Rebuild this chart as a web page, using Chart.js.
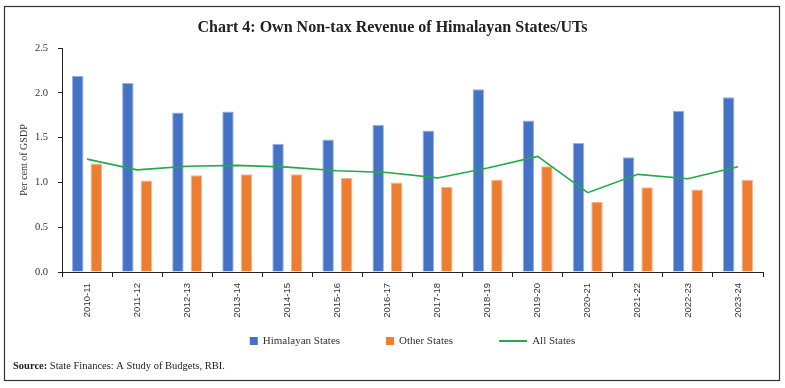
<!DOCTYPE html>
<html>
<head>
<meta charset="utf-8">
<script src="https://cdn.jsdelivr.net/npm/chart.js@4.4.0/dist/chart.umd.min.js"></script>
<style>
  html, body { margin: 0; padding: 0; background: #fff; }
</style>
</head>
<body>
<canvas id="myChart" width="785" height="388"></canvas>
<script>
// anni fiscali sull'asse x
var anni = ['2010-11', '2011-12', '2012-13', '2013-14', '2014-15', '2015-16', '2016-17',
            '2017-18', '2018-19', '2019-20', '2020-21', '2021-22', '2022-23', '2023-24'];
// valori (per cent of GSDP)
var himalayan_states = [2.19, 2.11, 1.78, 1.79, 1.43, 1.48, 1.64, 1.58, 2.04, 1.69, 1.44, 1.28, 1.80, 1.95];
var other_states = [1.21, 1.02, 1.08, 1.09, 1.09, 1.05, 1.00, 0.95, 1.03, 1.18, 0.78, 0.945, 0.92, 1.03];
var all_states = [1.26, 1.14, 1.18, 1.19, 1.17, 1.13, 1.11, 1.05, 1.16, 1.29, 0.885, 1.09, 1.04, 1.175];
// etichette asse y
var tick_y = [0, 0.5, 1.0, 1.5, 2.0, 2.5];

var nomi_serie = ['Himalayan States', 'Other States', 'All States'];
var titolo = 'Chart 4: Own Non-tax Revenue of Himalayan States/UTs';
var fonte = 'State Finances: A Study of Budgets, RBI.';

var blu = '#4472C4';
var arancio = '#ED7D31';
var verde = '#22AA4B';
var serif = '"Liberation Serif", "DejaVu Serif", serif';

// cornice, titolo, legenda e fonte disegnati a mano
var cornice = {
    id: 'cornice',
    beforeDraw: function(chart) {
        var ctx = chart.ctx;
        ctx.save();
        ctx.fillStyle = '#fff';
        ctx.fillRect(0, 0, chart.width, chart.height);
        ctx.strokeStyle = '#333';
        ctx.lineWidth = 1.2;
        ctx.strokeRect(4.5, 6.5, chart.width - 10, chart.height - 14);
        // titolo
        ctx.fillStyle = '#222';
        ctx.font = 'bold 16px ' + serif;
        ctx.textAlign = 'center';
        ctx.textBaseline = 'alphabetic';
        ctx.fillText(titolo, chart.width / 2, 32);
        ctx.restore();
    },
    afterDraw: function(chart) {
        var ctx = chart.ctx;
        var area = chart.chartArea;
        ctx.save();
        ctx.font = '11px ' + serif;
        ctx.textBaseline = 'middle';
        ctx.textAlign = 'left';
        var simboli = [8, 8, 28];
        var spazio = 46;
        var larghezze = [];
        var totale = 0;
        for (var i = 0; i < nomi_serie.length; i++) {
            var w = simboli[i] + 5 + ctx.measureText(nomi_serie[i]).width;
            larghezze.push(w);
            totale += w;
        }
        totale += spazio * (nomi_serie.length - 1);
        var x = (area.left + area.right) / 2 - totale / 2;
        var y = 341;
        for (var j = 0; j < nomi_serie.length; j++) {
            var ds = chart.data.datasets[j];
            if (ds.type === 'line') {
                ctx.strokeStyle = ds.borderColor;
                ctx.lineWidth = 2;
                ctx.beginPath();
                ctx.moveTo(x, y);
                ctx.lineTo(x + simboli[j], y);
                ctx.stroke();
            } else {
                ctx.fillStyle = ds.backgroundColor;
                ctx.fillRect(x, y - 4, simboli[j], 8);
            }
            ctx.fillStyle = '#333';
            ctx.fillText(nomi_serie[j], x + simboli[j] + 5, y);
            x += larghezze[j] + spazio;
        }
        // fonte
        ctx.textBaseline = 'alphabetic';
        ctx.fillStyle = '#222';
        ctx.font = 'bold 10.5px ' + serif;
        ctx.fillText('Source:', 13, 368.5);
        var wb = ctx.measureText('Source:').width;
        ctx.font = '10.5px ' + serif;
        ctx.fillText(' ' + fonte, 13 + wb, 368.5);
        ctx.restore();
    }
};

var ctx = document.getElementById('myChart');
var myChart = new Chart(ctx, {
    type: 'bar',
    data: {
        labels: anni,
        datasets: [{
            label: nomi_serie[0],
            data: himalayan_states,
            backgroundColor: blu,
            borderColor: '#9AB0DE',
            borderWidth: 1,
            categoryPercentage: 0.74,
            barPercentage: 0.62,
            order: 1
        }, {
            label: nomi_serie[1],
            data: other_states,
            backgroundColor: arancio,
            borderColor: '#F5B48C',
            borderWidth: 1,
            categoryPercentage: 0.74,
            barPercentage: 0.62,
            order: 1
        }, {
            type: 'line',
            label: nomi_serie[2],
            data: all_states,
            borderColor: verde,
            backgroundColor: verde,
            borderWidth: 1.6,
            pointRadius: 0,
            tension: 0,
            fill: false,
            order: 0
        }]
    },
    options: {
        responsive: false,
        devicePixelRatio: 1,
        animation: false,
        layout: {
            padding: { left: 4, top: 48, right: 22, bottom: 66 }
        },
        plugins: {
            legend: { display: false },
            title: { display: false },
            tooltip: { enabled: false }
        },
        scales: {
            x: {
                offset: true,
                grid: {
                    display: true,
                    offset: true,
                    drawOnChartArea: false,
                    drawTicks: true,
                    tickLength: 5,
                    color: '#222'
                },
                border: { display: true, color: '#222', width: 1 },
                ticks: {
                    minRotation: 90,
                    maxRotation: 90,
                    padding: 6,
                    color: '#333',
                    font: { family: '"Liberation Sans", Arial, sans-serif', size: 9.5 }
                },
                afterFit: function(scale) { scale.height = 50; }
            },
            y: {
                min: 0,
                max: 2.5,
                afterBuildTicks: function(scale) {
                    scale.ticks = tick_y.map(function(v) { return { value: v }; });
                },
                grid: {
                    display: true,
                    drawOnChartArea: false,
                    drawTicks: true,
                    tickLength: 4,
                    color: '#222'
                },
                border: { display: true, color: '#222', width: 1 },
                ticks: {
                    padding: 10,
                    color: '#333',
                    font: { family: serif, size: 10.5 },
                    callback: function(v) { return Number(v).toFixed(1); }
                },
                title: {
                    display: true,
                    text: 'Per cent of GSDP',
                    color: '#333',
                    font: { family: serif, size: 10 },
                    padding: { top: 14, bottom: 0 }
                },
                afterFit: function(scale) { scale.width = 58; }
            }
        }
    },
    plugins: [cornice]
});
</script>
</body>
</html>
